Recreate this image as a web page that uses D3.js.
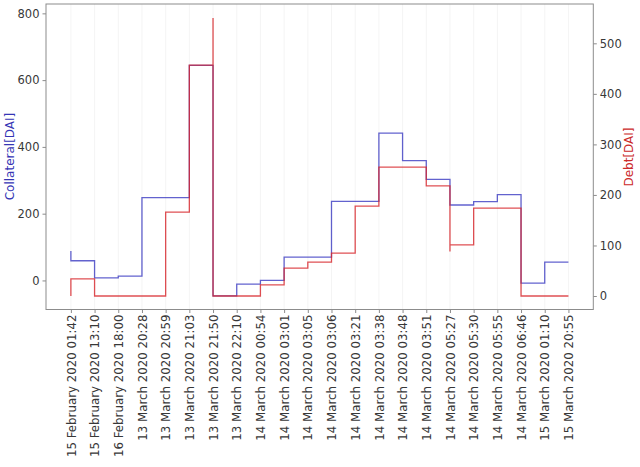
<!DOCTYPE html>
<html>
<head>
<meta charset="utf-8">
<script src="https://cdn.jsdelivr.net/npm/d3@7"></script>
<style>
  html, body { margin: 0; padding: 0; background: #fff; }
  svg { display: block; font-family: "DejaVu Sans", sans-serif; }
</style>
</head>
<body>
<svg id="chart" width="640" height="467"></svg>
<script>
const categories = [
  "15 February 2020 01:42", "15 February 2020 13:10", "16 February 2020 18:00",
  "13 March 2020 20:28", "13 March 2020 20:59", "13 March 2020 21:03",
  "13 March 2020 21:50", "13 March 2020 22:10", "14 March 2020 00:54",
  "14 March 2020 03:01", "14 March 2020 03:05", "14 March 2020 03:06",
  "14 March 2020 03:21", "14 March 2020 03:38", "14 March 2020 03:48",
  "14 March 2020 03:51", "14 March 2020 05:27", "14 March 2020 05:30",
  "14 March 2020 05:55", "14 March 2020 06:46", "15 March 2020 01:10",
  "15 March 2020 20:55"
];
// Collateral [DAI], one value per category (step-before)
const collateral = [88, 59, 8, 13, 248, 248, 644, -46, -11, 0, 70, 70, 237, 237, 441, 359, 303, 226, 236, 257, -8, 55];
// Debt [DAI]: category index and value (two indices repeat)
const debtIndex = [0, 1, 2, 3, 4, 5, 6, 6, 7, 8, 9, 10, 11, 12, 13, 14, 15, 16, 16, 17, 18, 19, 20, 21];
const debtValue = [0, 34, 0, 0, 0, 166, 457, 550, 0, 0, 22, 55, 67, 85, 178, 255, 255, 218, 88, 101, 174, 174, 0, 0];
const leftTicks = [0, 200, 400, 600, 800];
const rightTicks = [0, 100, 200, 300, 400, 500];

const svg = d3.select("#chart");
const L = 46, R = 593.3, T = 4, B = 309.5;

const x = d3.scaleLinear().domain([-1.05, categories.length - 1 + 1.05]).range([L, R]);
const yL = d3.scaleLinear().domain([-87, 828]).range([B, T]);
const yR = d3.scaleLinear().domain([-26.7, 577.8]).range([B, T]);

const axisColor = "#8c8c8c";
const textColor = "#383838";

// vertical grid
svg.append("g").selectAll("line").data(categories).join("line")
  .attr("x1", (d, i) => x(i)).attr("x2", (d, i) => x(i))
  .attr("y1", T).attr("y2", B)
  .attr("stroke", "#f1f1f1").attr("stroke-width", 0.8);

// lines
const blueLine = d3.line().curve(d3.curveStepBefore)
  .x((d, i) => x(i)).y(d => yL(d));
svg.append("path").datum(collateral)
  .attr("d", blueLine).attr("fill", "none")
  .attr("stroke", "rgba(45,45,190,0.75)").attr("stroke-width", 1.3);

const debtPts = debtIndex.map((d, i) => [d, debtValue[i]]);
const redLine = d3.line().curve(d3.curveStepBefore)
  .x(d => x(d[0])).y(d => yR(d[1]));
svg.append("path").datum(debtPts)
  .attr("d", redLine).attr("fill", "none")
  .attr("stroke", "rgba(215,35,40,0.8)").attr("stroke-width", 1.3);

// axes
const gL = svg.append("g").attr("transform", `translate(${L},0)`)
  .call(d3.axisLeft(yL).tickValues(leftTicks).tickSize(3.5).tickPadding(3).tickFormat(d3.format("d")));
const gR = svg.append("g").attr("transform", `translate(${R},0)`)
  .call(d3.axisRight(yR).tickValues(rightTicks).tickSize(3.5).tickPadding(3).tickFormat(d3.format("d")));
const gX = svg.append("g").attr("transform", `translate(0,${B})`)
  .call(d3.axisBottom(x).tickValues(d3.range(categories.length)).tickSize(3.5).tickFormat(i => categories[i]));

[gL, gR, gX].forEach(g => {
  g.select(".domain").remove();
  g.selectAll(".tick line").attr("stroke", axisColor);
  g.selectAll(".tick text").attr("fill", textColor)
    .style("font-size", "11.5px").style("font-family", "'DejaVu Sans', sans-serif");
});
gX.selectAll(".tick text")
  .style("font-size", "11.8px")
  .attr("transform", "rotate(-90)")
  .attr("text-anchor", "end")
  .attr("x", -5).attr("y", 0).attr("dy", "0.35em");

// frame
svg.append("rect").attr("x", L).attr("y", T).attr("width", R - L).attr("height", B - T)
  .attr("fill", "none").attr("stroke", axisColor).attr("stroke-width", 1);

// axis titles
svg.append("text").text("Collateral[DAI]")
  .attr("transform", `translate(10,156.5) rotate(-90)`)
  .attr("text-anchor", "middle").attr("dominant-baseline", "central")
  .attr("fill", "#3535b5").style("font-size", "12px");
svg.append("text").text("Debt[DAI]")
  .attr("transform", `translate(629,157) rotate(-90)`)
  .attr("text-anchor", "middle").attr("dominant-baseline", "central")
  .attr("fill", "#cc2a2a").style("font-size", "12px");
</script>
</body>
</html>
